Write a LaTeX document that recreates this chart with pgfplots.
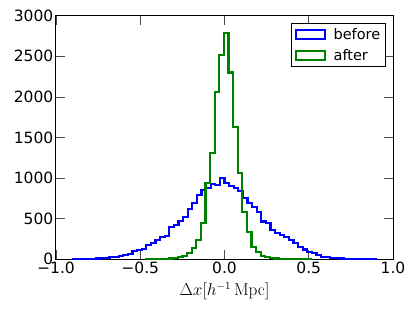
\documentclass[border=0pt]{standalone}
\usepackage[no-math]{fontspec}
\setmainfont{DejaVu Sans}
\usepackage{pgfplots}
\pgfplotsset{compat=1.18}
\definecolor{mplblue}{rgb}{0,0,1}
\definecolor{mplgreen}{rgb}{0,0.5,0}
\begin{document}
\begin{tikzpicture}
\begin{axis}[
 scale only axis, width=337pt, height=243.6pt,
 at={(0,0)}, anchor=south west,
 xmin=-1, xmax=1, ymin=0, ymax=3000,
 xtick={-1,-0.5,0,0.5,1}, xticklabels={−1.0,−0.5,0.0,0.5,1.0},
 ytick={0,500,1000,1500,2000,2500,3000}, yticklabels={0,500,1000,1500,2000,2500,3000},
 tick align=inside, major tick length=9pt,
 tick style={black!70, line width=0.6pt},
 axis line style={line width=1pt},
 ticklabel style={font=\fontsize{15.5}{17}\selectfont},
 xticklabel style={inner sep=2.5pt},
 yticklabel style={inner sep=2.5pt},
 xlabel={$\Delta x [h^{-1}\,\mathrm{Mpc}]$},
 xlabel style={at={(axis description cs:0.5,0)}, anchor=north, yshift=-23pt, inner sep=0pt, font=\fontsize{16}{18}\selectfont},
 legend image code/.code={\draw[#1, line width=2pt] (0pt,-4.5pt) rectangle (29pt,4.5pt);},
 legend style={at={(0.978,0.969)}, anchor=north east, draw=black, line width=0.6pt,
   font=\fontsize{14.5}{17}\selectfont, nodes={font=\fontsize{14.5}{17}\selectfont, inner sep=2pt},
   inner xsep=3pt, inner ysep=3pt, row sep=4pt, column sep=6pt},
 legend cell align=left,
]
\addplot[mplblue, line width=2.2pt, const plot] coordinates {
(-0.9009,0) (-0.9009,1) (-0.8736,2) (-0.8463,3) (-0.819,4) (-0.7917,6) (-0.7644,9) (-0.7371,12) (-0.7098,18) (-0.6825,25) (-0.6552,32) (-0.6279,40) (-0.6006,50) (-0.5733,70) (-0.546,106) (-0.5187,110) (-0.4914,123) (-0.4641,176) (-0.4368,200) (-0.4095,240) (-0.3822,271) (-0.3549,291) (-0.3276,401) (-0.3003,422) (-0.273,470) (-0.2457,524) (-0.2184,615) (-0.1911,697) (-0.1638,791) (-0.1365,853) (-0.1092,880) (-0.0819,925) (-0.0546,915) (-0.0273,1000) (0,935) (0.0273,905) (0.0546,875) (0.0819,840) (0.1092,750) (0.1365,690) (0.1638,640) (0.1911,580) (0.2184,465) (0.2457,450) (0.273,360) (0.3003,320) (0.3276,300) (0.3549,270) (0.3822,235) (0.4095,197) (0.4368,155) (0.4641,120) (0.4914,94) (0.5187,74) (0.546,53) (0.5733,32) (0.6006,25) (0.6279,18) (0.6552,12) (0.6825,9) (0.7098,7) (0.7371,5) (0.7644,4) (0.7917,3) (0.819,2) (0.8463,1) (0.8736,1) (0.9009,1) (0.9009,0)
};
\addlegendentry{before}
\addplot[mplgreen, line width=2.2pt, const plot] coordinates {
(-0.4681,0) (-0.4681,1) (-0.4408,2) (-0.4135,3) (-0.3862,5) (-0.3589,7) (-0.3316,11) (-0.3043,17) (-0.277,28) (-0.2497,42) (-0.2224,74) (-0.1951,135) (-0.1678,238) (-0.1405,443) (-0.1132,935) (-0.0859,1305) (-0.0586,2060) (-0.0313,2520) (-0.004,2790) (0.0233,2300) (0.0506,1625) (0.0779,1066) (0.1052,586) (0.1325,340) (0.1598,155) (0.1871,94) (0.2144,40) (0.2417,25) (0.269,15) (0.2963,10) (0.3236,7) (0.3509,5) (0.3782,3) (0.4055,2) (0.4328,2) (0.4601,1) (0.4874,1) (0.5147,1) (0.5147,0)
};
\addlegendentry{after}
\end{axis}
\path (-56pt,-52.7pt) rectangle (359pt,259.3pt);
\end{tikzpicture}
\end{document}
